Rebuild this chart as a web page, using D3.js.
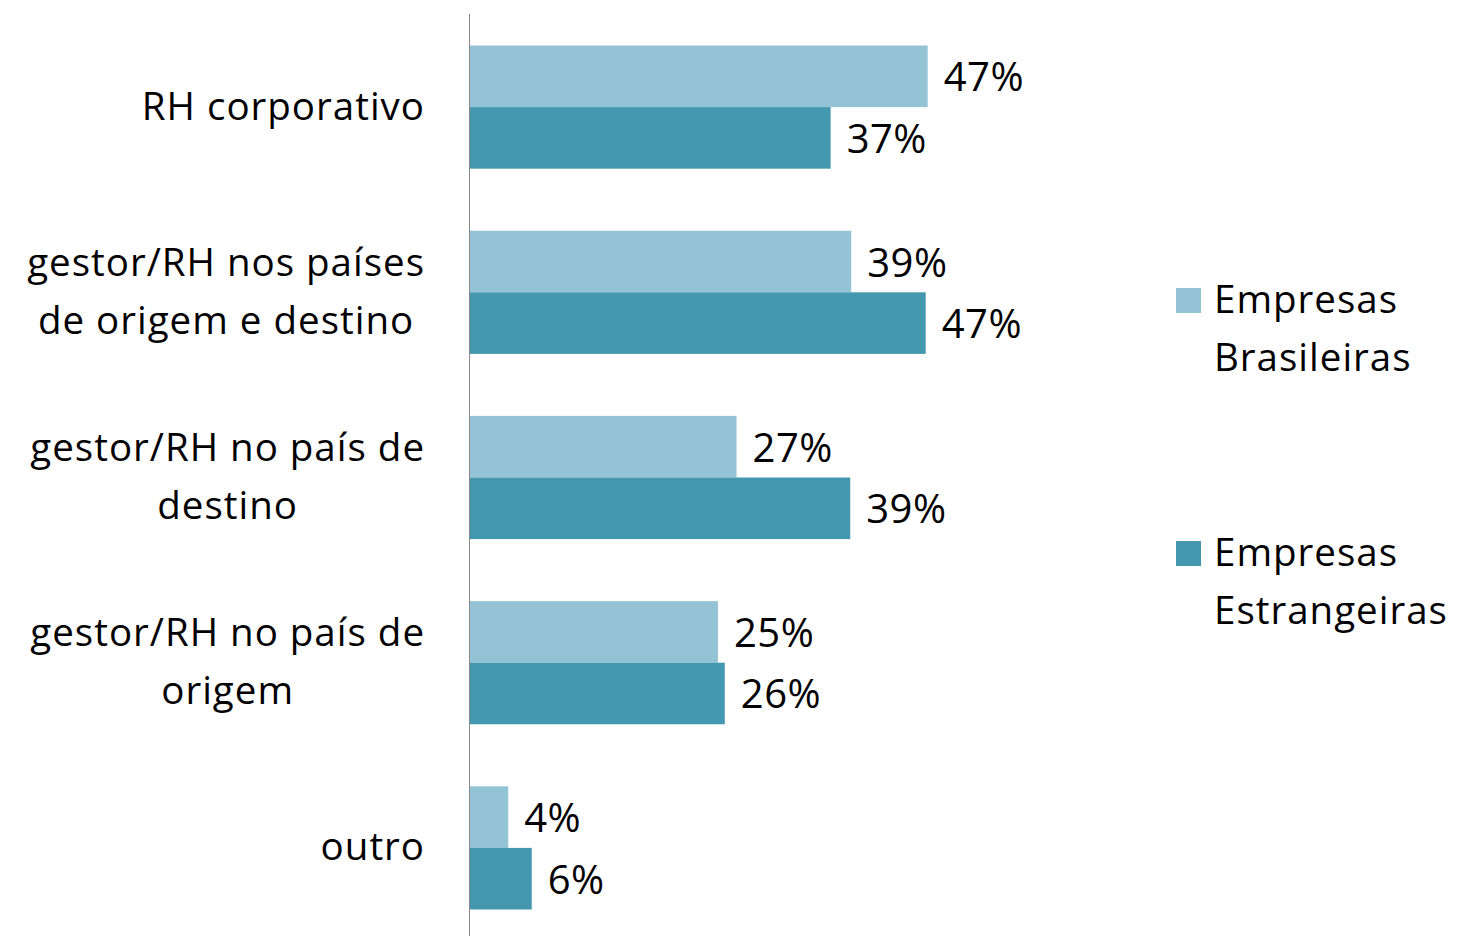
<!doctype html>
<html lang="pt">
<head>
	<meta charset="utf-8">
	<title>RH responsável</title>
	<script src="https://cdn.jsdelivr.net/npm/d3@7/dist/d3.min.js"></script>
	<style>
		html, body { margin: 0; padding: 0; background: #fff; }
		svg { display: block; font-family: "Open Sans", Lato, sans-serif; font-variant-ligatures: none; }
	</style>
</head>
<body>
	<svg id="chart" width="1458" height="936"></svg>
	<script>
		(function () {
			"use strict"

			// categories, each line of the wrapped label as its own entry
			var categories = [
				[ "RH corporativo" ],
				[ "gestor/RH nos países", "de origem e destino" ],
				[ "gestor/RH no país de", "destino" ],
				[ "gestor/RH no país de", "origem" ],
				[ "outro" ]
			];
			var seriesNames = [ [ "Empresas", "Brasileiras" ], [ "Empresas", "Estrangeiras" ] ];
			var brasileiras = [ 46.7, 38.9, 27.2, 25.3, 3.9 ];
			var estrangeiras = [ 36.8, 46.5, 38.8, 26.0, 6.3 ];
			var colors = [ "#93c3d5", "#4398b0" ];

			var svg = d3.select("#chart");
			var x0 = 470, valueSize = 40, labelSize = 38.5, spacing = "1px";

			var y = d3.scaleBand()
				.domain(d3.range(categories.length))
				.range([ 14.5, 940.5 ])
				.paddingInner(0.335)
				.paddingOuter(0.335 / 2);
			var ySub = d3.scaleBand().domain([ 0, 1 ]).range([ 0, y.bandwidth() ]);
			var x = d3.scaleLinear().domain([ 0, 10 ]).range([ x0, x0 + 98 ]);

			var series = [ brasileiras, estrangeiras ];

			series.forEach(function (vals, s) {
				var g = svg.append("g");
				g.selectAll("rect")
					.data(vals)
					.join("rect")
						.attr("x", x(0))
						.attr("y", function (d, i) { return y(i) + ySub(s); })
						.attr("width", function (d) { return x(d) - x(0); })
						.attr("height", ySub.bandwidth())
						.attr("fill", colors[s]);
				g.selectAll("text")
					.data(vals)
					.join("text")
						.attr("x", function (d) { return x(d) + 16; })
						.attr("y", function (d, i) { return y(i) + ySub(s) + ySub.bandwidth() / 2 + 15; })
						.attr("font-size", valueSize)
						.attr("letter-spacing", "0.5px")
						.attr("fill", "#000")
						.text(function (d) { return Math.round(d) + "%"; });
			});

			// vertical axis line
			svg.append("line")
				.attr("x1", x0 - 0.5).attr("x2", x0 - 0.5)
				.attr("y1", 14).attr("y2", 936)
				.attr("stroke", "#888").attr("stroke-width", 1);

			// category labels: block right-aligned, lines centred within block
			var labelRight = 425, lineH = 58;
			categories.forEach(function (lines, i) {
				var cy = y(i) + y.bandwidth() / 2;
				var g = svg.append("g");
				var texts = lines.map(function (ln, j) {
					return g.append("text")
						.attr("font-size", labelSize)
						.attr("letter-spacing", spacing)
						.attr("fill", "#000")
						.attr("text-anchor", "middle")
						.attr("y", cy + 12.5 + (j - (lines.length - 1) / 2) * lineH)
						.text(ln);
				});
				var w = d3.max(texts, function (t) { return t.node().getComputedTextLength(); });
				texts.forEach(function (t) { t.attr("x", labelRight - w / 2); });
			});

			// legend
			var legendY = [ 288, 541 ];
			seriesNames.forEach(function (lines, s) {
				svg.append("rect")
					.attr("x", 1176).attr("y", legendY[s])
					.attr("width", 25).attr("height", 25)
					.attr("fill", colors[s]);
				lines.forEach(function (ln, j) {
					svg.append("text")
						.attr("x", 1214)
						.attr("y", legendY[s] + 25 + j * lineH)
						.attr("font-size", labelSize)
						.attr("letter-spacing", spacing)
						.attr("fill", "#000")
						.text(ln);
				});
			});
		})();
	</script>
</body>
</html>
